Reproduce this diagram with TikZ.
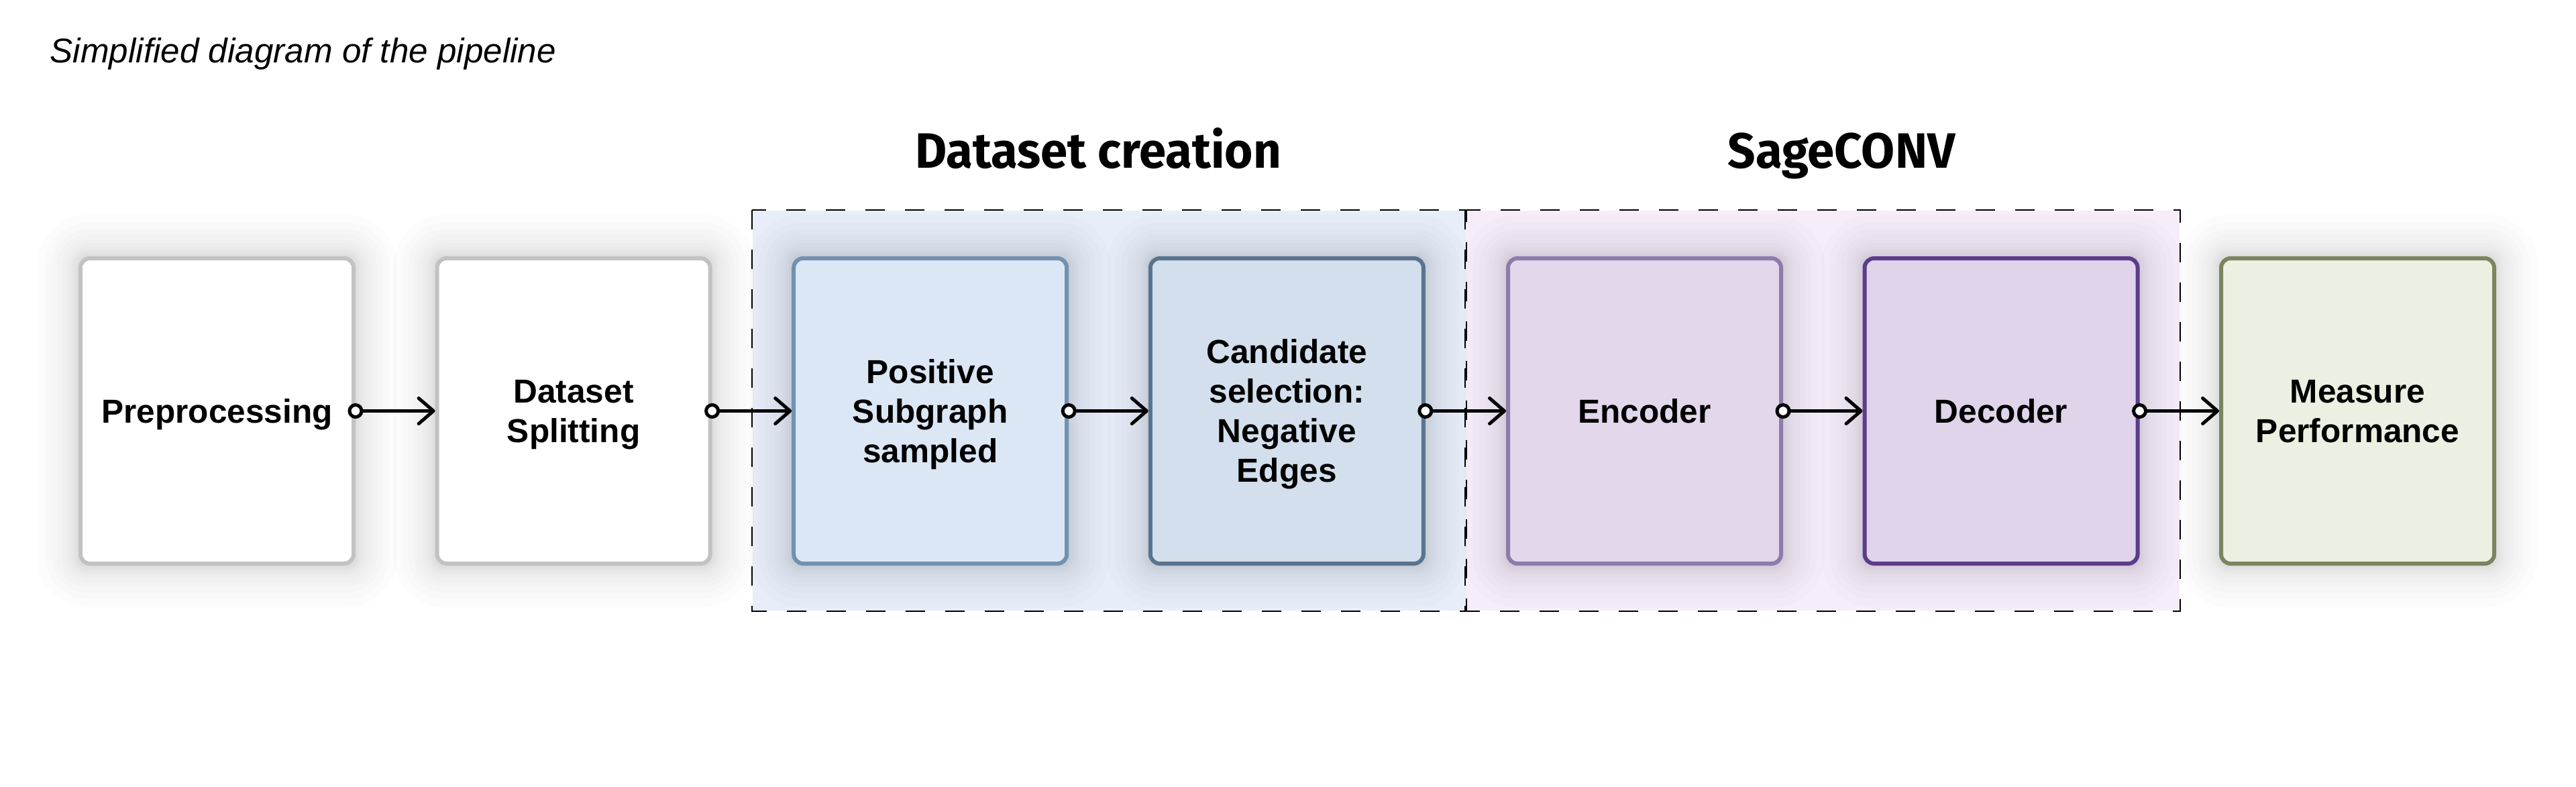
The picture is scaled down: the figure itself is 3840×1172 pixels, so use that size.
\documentclass[tikz,border=0pt]{standalone}
\usepackage{fontspec}
\setmainfont{Liberation Sans}
\newfontfamily\headfont[FakeStretch=0.98]{Fira Sans}
\usetikzlibrary{arrows.meta}

\definecolor{grayborder}{HTML}{C2C2C2}
\definecolor{posfill}{HTML}{DCE7F6}
\definecolor{posdraw}{HTML}{7191B0}
\definecolor{candfill}{HTML}{D3DFEC}
\definecolor{canddraw}{HTML}{5A748F}
\definecolor{encfill}{HTML}{E3D7EC}
\definecolor{encdraw}{HTML}{8D7BAB}
\definecolor{decfill}{HTML}{E0D4EB}
\definecolor{decdraw}{HTML}{5C3C8C}
\definecolor{measfill}{HTML}{ECF0E2}
\definecolor{measdraw}{HTML}{7A8560}
\definecolor{grpone}{HTML}{E7EEF9}
\definecolor{grptwo}{HTML}{F5EEFA}

\pgfdeclarelayer{grplayer}
\pgfdeclarelayer{shdlayer}
\pgfsetlayers{grplayer,shdlayer,main}

\begin{document}
\begin{tikzpicture}[x=0.25pt,y=-0.25pt,
  stagebox/.style={draw, line width=1.5pt, rounded corners=3.5pt,
    minimum width=101.75pt, minimum height=113.75pt, inner sep=0pt},
  stagetext/.style={align=center, inner sep=0pt,
    font=\fontsize{12.4pt}{14.75pt}\selectfont\bfseries},
  grpbox/.style={minimum width=#1, minimum height=149pt, inner sep=0pt,
    draw=none},
  grpline/.style={draw=black, line width=0.5pt, dash pattern=on 7.25pt off 7.5pt},
  conn/.style={line width=1.25pt,
    {Circle[length=5.75pt,width=5.75pt,fill=white]}-{Straight Barb[length=5.5pt,width=9.5pt,round]}},
  heading/.style={anchor=base, font=\headfont\bfseries\fontsize{18.5pt}{22pt}\selectfont}
]
\useasboundingbox (0,0) rectangle (3840,1172);

% white page and group backgrounds
\begin{pgfonlayer}{grplayer}
\fill[white] (0,0) rectangle (3840,1172);
\node[grpbox=265.75pt, fill=grpone] (g1) at (1653.5,612) {};
\node[grpbox=266pt, fill=grptwo] (g2) at (2717,612) {};
\end{pgfonlayer}

% title and headings
\node[anchor=base west, inner sep=0pt, font=\fontsize{12.8pt}{15pt}\selectfont\itshape] (title) at (74,93) {Simplified diagram of the pipeline};
\node[heading] (h1) at (1637,250) {Dataset creation};
\node[heading] (h2) at (2745,250) {SageCONV};

% stages
\node[stagebox, draw=grayborder, fill=white] (b1) at (323.5,612.5) {};
\node[stagebox, draw=grayborder, fill=white] (b2) at (855.1,612.5) {};
\node[stagebox, draw=posdraw, fill=posfill] (b3) at (1386.7,612.5) {};
\node[stagebox, draw=canddraw, fill=candfill] (b4) at (1918.3,612.5) {};
\node[stagebox, draw=encdraw, fill=encfill] (b5) at (2451.5,612.5) {};
\node[stagebox, draw=decdraw, fill=decfill] (b6) at (2983,612.5) {};
\node[stagebox, draw=measdraw, fill=measfill] (b7) at (3514.5,612.5) {};

\node[stagetext] (t1) at ([yshift=-1.5pt]b1.center) {\strut Preprocessing};
\node[stagetext] (t2) at ([yshift=-1.5pt]b2.center) {\strut Dataset\\\strut Splitting};
\node[stagetext] (t3) at ([yshift=-1.5pt]b3.center) {\strut Positive\\\strut Subgraph\\\strut sampled};
\node[stagetext] (t4) at ([yshift=-1.5pt]b4.center) {\strut Candidate\\\strut selection:\\\strut Negative\\\strut Edges};
\node[stagetext] (t5) at ([yshift=-1.5pt]b5.center) {\strut Encoder};
\node[stagetext] (t6) at ([yshift=-1.5pt]b6.center) {\strut Decoder};
\node[stagetext] (t7) at ([yshift=-1.5pt]b7.center) {\strut Measure\\\strut Performance};

% soft shadows
\begin{pgfonlayer}{shdlayer}
\foreach \n in {b1,b2,b3,b4,b5,b6,b7}{
  \foreach \d in {2,4,7,10,14,19,25,32,40,50,62}{
    \fill[black, opacity=0.012, rounded corners={3.5pt+\d*0.25pt}]
      ([shift={(-\d,-\d)}]\n.north west) rectangle ([shift={(\d,\d)}]\n.south east);
  }
}
\end{pgfonlayer}

% dashed group frames
\draw[grpline] (g1.north west) rectangle (g1.south east);
\draw[grpline] (g2.north west) rectangle (g2.south east);

% connectors
\draw[conn] ([xshift=-2.875pt]b1.east) -- (b2.west);
\draw[conn] ([xshift=-2.875pt]b2.east) -- (b3.west);
\draw[conn] ([xshift=-2.875pt]b3.east) -- (b4.west);
\draw[conn] ([xshift=-2.875pt]b4.east) -- (b5.west);
\draw[conn] ([xshift=-2.875pt]b5.east) -- (b6.west);
\draw[conn] ([xshift=-2.875pt]b6.east) -- (b7.west);
\end{tikzpicture}
\end{document}
